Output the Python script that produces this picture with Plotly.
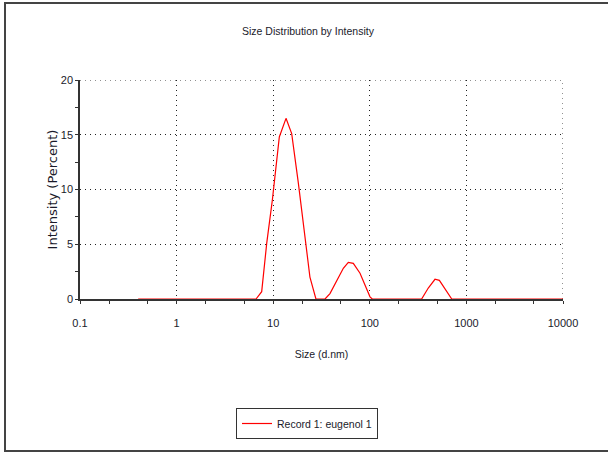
import plotly.graph_objects as go

# Data (size in d.nm, intensity in %)
sizes = [0.4, 6.64, 7.6, 8.57, 9.79, 11.57, 13.57, 15.54, 18.2, 20.8, 24.0, 27.7,
         34.4, 38.7, 45.4, 53.2, 59.9, 67.5, 79.2, 89.2, 100.5, 106,
         344, 403, 473, 525, 600, 705, 10000]
intensity = [0, 0, 0.67, 5.1, 9.0, 14.8, 16.5, 15.1, 10.6, 6.3, 2.0, 0,
             0, 0.5, 1.6, 2.8, 3.35, 3.25, 2.35, 1.3, 0.2, 0,
             0, 1.0, 1.8, 1.7, 0.9, 0, 0]
series_name = "Record 1: eugenol 1"
x_ticks = [0.1, 1, 10, 100, 1000, 10000]
x_tick_labels = ["0.1", "1", "10", "100", "1000", "10000"]
y_ticks = [0, 5, 10, 15, 20]

FONT = "Liberation Sans, Arial, sans-serif"
TXT = "#1a1a2a"
GRID = "#222222"
GDASH = "1px,4px"

fig = go.Figure()
fig.add_trace(go.Scatter(x=sizes, y=intensity, mode="lines", name=series_name,
                         line=dict(color="#FF0000", width=1.2)))

L, R, T, B = 80, 45, 80, 155
W, H = 608, 454
pw, ph = W - L - R, H - T - B

def px(x):
    return (x - L) / pw

def py(y):
    return (H - B - y) / ph

fig.update_layout(
    width=W, height=H,
    margin=dict(l=L, r=R, t=T, b=B, pad=0),
    paper_bgcolor="white", plot_bgcolor="white",
    font=dict(family=FONT, size=11, color=TXT),
    showlegend=True,
    legend=dict(x=px(236), y=py(408), xanchor="left", yanchor="top",
                bordercolor="#333333", borderwidth=1, bgcolor="white",
                font=dict(family=FONT, size=10.5, color=TXT),
                itemwidth=30, tracegroupgap=0),
    xaxis=dict(type="log", range=[-1, 4], tickvals=x_ticks, ticktext=x_tick_labels,
               showline=True, linecolor="#333333", linewidth=1.5,
               ticks="outside", ticklen=3, tickcolor="#333333",
               ticklabelstandoff=10,
               showgrid=True, gridcolor=GRID, griddash=GDASH, gridwidth=1,
               minor=dict(ticks="outside", ticklen=3, tickcolor="#333333", showgrid=False),
               zeroline=False, mirror=False,
               title=dict(text="Size (d.nm)", font=dict(family=FONT, size=10.5), standoff=23),
               tickfont=dict(family=FONT, size=11)),
    yaxis=dict(range=[0, 20], tickvals=y_ticks,
               showline=True, linecolor="#333333", linewidth=1.5,
               ticks="outside", ticklen=3, tickcolor="#333333",
               showgrid=True, gridcolor=GRID, griddash=GDASH, gridwidth=1,
               minor=dict(dtick=2.5, ticks="outside", ticklen=3, tickcolor="#333333", showgrid=False),
               zeroline=False,
               title=dict(text="Intensity (Percent)", font=dict(family="DejaVu Sans, sans-serif", size=13), standoff=0),
               tickfont=dict(family=FONT, size=11)),
)

# gridlines on the top (y=20) and right (x=10000) edges
fig.add_shape(type="line", xref="paper", yref="y", x0=0, x1=1, y0=y_ticks[-1], y1=y_ticks[-1],
              line=dict(color=GRID, width=1, dash=GDASH), layer="below")
fig.add_shape(type="line", xref="x", yref="paper", x0=x_ticks[-1], x1=x_ticks[-1], y0=0, y1=1,
              line=dict(color=GRID, width=1, dash=GDASH), layer="below")

fig.add_annotation(text="Size Distribution by Intensity", xref="paper", yref="paper",
                   x=px(308), y=py(31), xanchor="center", yanchor="middle",
                   showarrow=False, font=dict(family=FONT, size=10.5, color=TXT))

# outer frame
fig.add_shape(type="rect", xref="paper", yref="paper",
              x0=px(5), x1=px(620), y0=py(451), y1=py(3),
              line=dict(color="#444444", width=2), layer="below")

fig.write_html("out.html")
